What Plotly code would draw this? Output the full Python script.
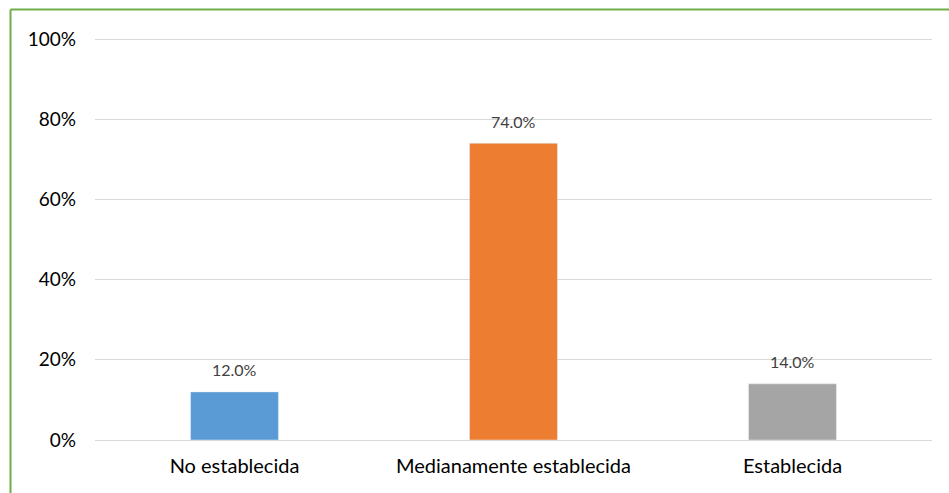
import plotly.graph_objects as go

categories = ["No establecida", "Medianamente establecida", "Establecida"]
values = [12.0, 74.0, 14.0]
colors = ["#5B9BD5", "#ED7D31", "#A5A5A5"]
tick_vals = [0, 20, 40, 60, 80, 100]
tick_text = ["0%", "20%", "40%", "60%", "80%", "100%"]

W, H = 949, 493
L, R, T, B = 95, 17, 31, 53
pw, ph = W - L - R, H - T - B
y_top = 102  # headroom so the 100% gridline is drawn inside the plot area

fig = go.Figure(go.Bar(
    x=categories, y=values, marker_color=colors, width=0.315,
    hoverinfo="skip",
))

for c, v in zip(categories, values):
    fig.add_annotation(x=c, y=v, text=f"{v:.1f}%", showarrow=False,
                       yshift=22, font=dict(size=16, color="#404040"))

# green frame along the left and top edges
gx = (10.5 - L) / pw
gy = 1 + (T - 9.5) / ph
green = dict(color="#70AD47", width=2)
fig.add_shape(type="line", xref="paper", yref="paper", x0=gx, x1=gx,
              y0=gy, y1=-(B + 5) / ph, line=green)
fig.add_shape(type="line", xref="paper", yref="paper", x0=gx, x1=1 + (R + 5) / pw,
              y0=gy, y1=gy, line=green)

fig.update_layout(
    width=W, height=H, margin=dict(l=L, r=R, t=T, b=B),
    paper_bgcolor="white", plot_bgcolor="white", showlegend=False,
    font=dict(family="Lato, Carlito, Liberation Sans, sans-serif", color="#000000"),
    xaxis=dict(showgrid=False, showline=False, ticks="", tickfont=dict(size=20),
               ticklabelstandoff=12),
    yaxis=dict(range=[0, y_top], tickvals=tick_vals, ticktext=tick_text,
               showgrid=True, gridcolor="#D9D9D9", gridwidth=1,
               zeroline=True, zerolinecolor="#D9D9D9", zerolinewidth=1,
               showline=False, ticks="", tickfont=dict(size=19),
               ticklabelstandoff=18),
)

fig.write_html("out.html")
